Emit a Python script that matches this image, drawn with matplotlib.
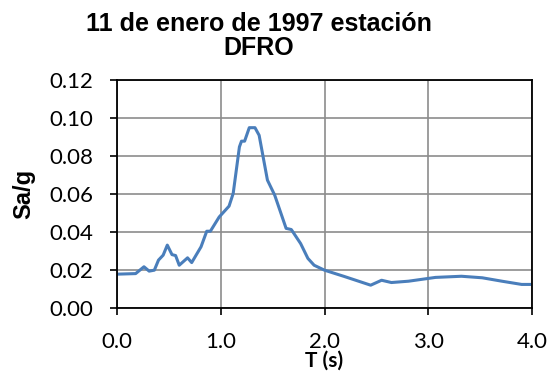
import matplotlib
matplotlib.use("Agg")
import matplotlib.pyplot as plt

# periodo (s) y aceleracion espectral (Sa/g)
T = [0.0, 0.18, 0.26, 0.31, 0.36, 0.40, 0.445, 0.485, 0.53, 0.565, 0.60, 0.68, 0.72,
     0.81, 0.865, 0.90, 0.985, 1.08, 1.12, 1.18, 1.20, 1.23, 1.275, 1.33, 1.37,
     1.45, 1.52, 1.63, 1.68, 1.77, 1.84, 1.90, 2.0, 2.19, 2.445, 2.55, 2.645,
     2.81, 3.07, 3.32, 3.52, 3.71, 3.90, 4.0]
Sa = [0.0179, 0.0182, 0.0218, 0.0195, 0.0200, 0.0253, 0.0279, 0.0332, 0.0282, 0.0277,
      0.0226, 0.0265, 0.0240, 0.0323, 0.0405, 0.0405, 0.0480, 0.0537, 0.0604, 0.0849,
      0.0879, 0.0879, 0.0950, 0.0950, 0.0910, 0.0674, 0.0595, 0.0420, 0.0414, 0.0340,
      0.0262, 0.0226, 0.0200, 0.0167, 0.0121, 0.0147, 0.0135, 0.0142, 0.0162, 0.0168,
      0.0160, 0.0142, 0.0125, 0.0125]

xticks = [0, 1, 2, 3, 4]
yticks = [0.00, 0.02, 0.04, 0.06, 0.08, 0.10, 0.12]

fig = plt.figure(figsize=(5.5, 3.8), dpi=100)
ax = fig.add_axes([0.2127, 0.189, 0.7546, 0.6])

ax.plot(T, Sa, "-", color="#4A7EBB", linewidth=2.2, solid_joinstyle="round")

ax.set_xlim(0, 4)
ax.set_ylim(0, 0.12)
ax.set_xticks(xticks)
ax.set_xticklabels(["%.1f" % v for v in xticks], family="Lato", fontsize=16)
ax.set_yticks(yticks)
ax.set_yticklabels(["%.2f" % v for v in yticks], family="Lato", fontsize=16)
ax.tick_params(direction="out", length=5, width=1.2)
ax.tick_params(axis="y", pad=12)
ax.tick_params(axis="x", pad=12)
ax.grid(True, color="#8c8c8c", linewidth=1.2)
ax.set_axisbelow(True)
for s in ax.spines.values():
    s.set_color("black")
    s.set_linewidth(1.3)

ax.set_xlabel("T (s)", family="Lato", fontweight="bold", fontsize=15, labelpad=-1)
ax.set_ylabel("Sa/g", family="Liberation Sans", fontweight="bold", fontsize=17, labelpad=10)

fig.text(0.471, 0.905, "11 de enero de 1997 estación\nDFRO", ha="center", va="center",
         family="Liberation Sans", fontweight="bold", fontsize=18, linespacing=1.0)

fig.savefig("out.png", dpi=100)
